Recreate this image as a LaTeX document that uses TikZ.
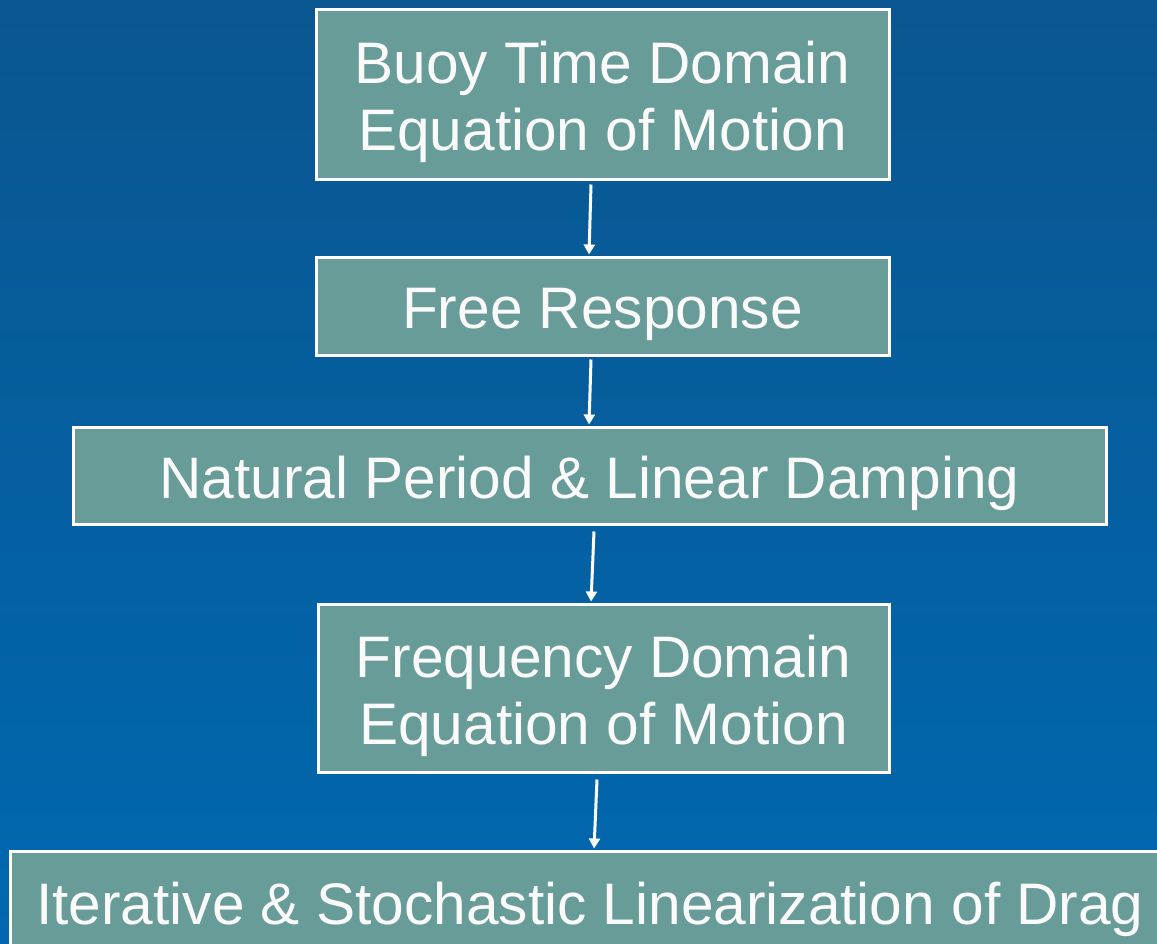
\documentclass[tikz,border=0pt]{standalone}
\usepackage{fontspec}
\setmainfont{Liberation Sans}
\usetikzlibrary{calc,arrows.meta}
\definecolor{bgtop}{HTML}{0A5690}
\definecolor{bgbot}{HTML}{0068B0}
\definecolor{boxfill}{HTML}{679C98}
\definecolor{txt}{HTML}{FAFAFA}
\tikzset{
  stage/.style={draw=white, line width=3pt, fill=boxfill, inner sep=0pt},
  stagetext/.style={text=txt, align=center, inner sep=0pt, yshift=-8pt,
    font=\fontsize{58.6}{67}\selectfont},
  flow/.style={draw=white, line width=3pt, -{Triangle[length=10pt,width=11pt]}, shorten >=1pt}
}
\begin{document}
\begin{tikzpicture}[x=1pt,y=-1pt]
\shade[top color=bgtop, bottom color=bgbot] (0,0) rectangle (1157,943);
\useasboundingbox (0,0) rectangle (1157,943);
\node[stage, minimum width=573pt, minimum height=170pt] (b1) at (602.5,94) {};
\node[stage, minimum width=573pt, minimum height=98pt] (b2) at (602.5,306) {};
\node[stage, minimum width=1033pt, minimum height=97pt] (b3) at (589.5,475.5) {};
\node[stage, minimum width=571pt, minimum height=168pt] (b4) at (603.5,688) {};
\node[stage, minimum width=1160pt, minimum height=100pt] (b5) at (590,901) {};
\node[stagetext] (t1) at (b1.center) {Buoy Time Domain\\Equation of Motion};
\node[stagetext] (t2) at (b2.center) {Free Response};
\node[stagetext] (t3) at (b3.center) {Natural Period \& Linear Damping};
\node[stagetext] (t4) at (b4.center) {Frequency Domain\\Equation of Motion};
\node[stagetext] (t5) at (b5.center) {Iterative \& Stochastic Linearization of Drag};
\draw[flow] ($(b1.south)+(-11.5,4)$) -- ($(b2.north)+(-13.5,0)$);
\draw[flow] ($(b2.south)+(-11.5,3)$) -- ($(b3.north)+(-0.5,0)$);
\draw[flow] ($(b3.south)+(4.5,6)$) -- ($(b4.north)+(-12.5,0)$);
\draw[flow] ($(b4.south)+(-6.5,6)$) -- ($(b5.north)+(4,0)$);
\end{tikzpicture}
\end{document}
